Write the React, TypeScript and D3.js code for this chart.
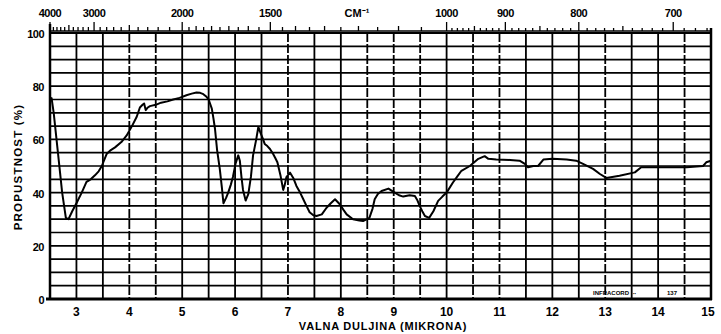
import * as d3 from "d3";
import { useEffect } from "react";

// spectrum: wavelength (µm) and transmittance (%)
const wavelength = [
  2.5, 2.53, 2.57, 2.65, 2.73, 2.8, 2.85, 2.92, 3.0, 3.1, 3.19, 3.27, 3.35, 3.42, 3.48,
  3.57, 3.65, 3.73, 3.85, 3.95, 4.05, 4.14, 4.2, 4.25, 4.28, 4.31, 4.35, 4.39, 4.5, 4.6,
  4.72, 4.83, 4.95, 5.08, 5.18, 5.27, 5.34, 5.4, 5.46, 5.5, 5.56, 5.59, 5.62, 5.66, 5.71,
  5.75, 5.78, 5.83, 5.87, 5.92, 5.96, 6.01, 6.06, 6.09, 6.12, 6.15, 6.2, 6.25, 6.3, 6.34,
  6.4, 6.44, 6.47, 6.5, 6.53, 6.56, 6.61, 6.66, 6.72, 6.76, 6.8, 6.86, 6.91, 6.94, 6.97,
  7.04, 7.1, 7.16, 7.23, 7.29, 7.35, 7.41, 7.48, 7.54, 7.64, 7.73, 7.81, 7.89, 7.98, 8.05,
  8.11, 8.23, 8.35, 8.42, 8.54, 8.6, 8.64, 8.7, 8.77, 8.9, 9.02, 9.1, 9.18, 9.3, 9.4,
  9.45, 9.49, 9.54, 9.59, 9.67, 9.75, 9.84, 9.92, 10.0, 10.12, 10.2, 10.28, 10.44, 10.6,
  10.72, 10.79, 10.94, 11.2, 11.38, 11.48, 11.54, 11.64, 11.73, 11.83, 12.0, 12.27, 12.45,
  12.58, 12.77, 12.9, 13.02, 13.27, 13.56, 13.68, 14.03, 14.54, 14.85, 14.91, 15.0,
];
const transmittance = [
  75, 75.5, 70, 55, 40, 30.5, 30, 33, 36, 40, 44, 45, 46.5, 48, 50,
  54.5, 56, 57, 59, 61.5, 65, 68.5, 72, 73, 73.5, 71, 72, 72.5, 73, 73.8,
  74.3, 75, 75.6, 76.6, 77.2, 77.6, 77.5, 77, 76, 75, 71.6, 68, 64, 56, 49,
  42, 36, 38, 40, 43, 46, 51, 54, 52, 46, 41, 37, 39.4, 46, 54,
  60, 64.7, 63, 61.5, 60, 58.3, 57.5, 56.4, 54.5, 53, 51.4, 46.3, 41, 43, 45.8,
  47.5, 45.5, 42.5, 40, 37.5, 35, 32.6, 31.5, 31.2, 31.8, 34.3, 36, 37.5, 35.6, 33.5,
  31.8, 30, 29.5, 29.3, 30.5, 34, 37.5, 39.5, 40.6, 41.5, 40, 39, 38.5, 39, 38.7,
  37, 35, 33, 31.2, 30.5, 33, 36.9, 38.5, 40, 43.8, 46, 48.2, 50, 52.7,
  53.7, 52.7, 52.4, 52.3, 52, 50.8, 49.5, 50, 50, 52.4, 52.7, 52.4, 52,
  50.8, 48.9, 47, 45.5, 46.3, 47.6, 49.5, 49.5, 49.5, 50, 51.4, 52,
];

const micronTicks = [3, 4, 5, 6, 7, 8, 9, 10, 11, 12, 13, 14, 15];
const percentTicks = [0, 20, 40, 60, 80, 100];
const wavenumberLabels = [4000, 3000, 2000, 1500, 1000, 900, 800, 700];
const dashedVerticals = [4, 4.5, 7, 8.5, 9, 9.5, 10.5, 11, 13, 14.5];

const width = 721;
const height = 334;
const left = 50;
const right = 711;
const top = 33;
const bottom = 299;

const font = "'Liberation Sans', Arial, sans-serif";

export default function App() {
  useEffect(() => {
    document.body.style.margin = "0";
  }, []);

  const x = d3.scaleLinear([2.5, 15], [left, right]);
  const y = d3.scaleLinear([0, 100], [bottom, top]);
  const xWave = (cm: number) => x(10000 / cm);

  const points = wavelength.map((w, i) => [w, transmittance[i]] as [number, number]);
  const line = d3.line<[number, number]>()
    .x(d => x(d[0]))
    .y(d => y(d[1]));

  const hLines = d3.range(5, 100, 5);
  const vLines = d3.range(3, 15, 0.5);

  // top wavenumber ticks
  const minor = [
    ...d3.range(4000, 2000, -100),
    ...d3.range(2000, 1000, -50),
    ...d3.range(1000, 660, -10),
  ];
  const tickLen = (cm: number) => {
    if (wavenumberLabels.includes(cm)) return 9;
    if (cm > 1000) return cm % 500 === 0 ? 6 : cm % 100 === 0 && cm < 2000 ? 5 : 4;
    return cm % 50 === 0 ? 5 : 3;
  };

  return (
    <svg width={width} height={height} style={{ display: "block", background: "#fff" }}>
      {/* horizontal grid every 5 % */}
      <g stroke="#000" strokeWidth={1.7}>
        {hLines.map(v => (
          <line key={v} x1={left} x2={right} y1={y(v)} y2={y(v)} />
        ))}
      </g>
      {/* vertical grid every 0.5 µm */}
      <g stroke="#000" strokeWidth={1.8}>
        {vLines.map(v => (
          <line key={v} x1={x(v)} x2={x(v)} y1={top} y2={bottom}
            strokeDasharray={dashedVerticals.includes(v) ? "9,2" : undefined} />
        ))}
      </g>
      {/* frame */}
      <g stroke="#000" fill="none">
        <line x1={left} x2={right} y1={top} y2={top} strokeWidth={2} />
        <line x1={left} x2={right} y1={31} y2={31} strokeWidth={1.5} />
        <line x1={left} x2={left} y1={24} y2={bottom + 1} strokeWidth={2.5} />
        <line x1={right} x2={right} y1={28} y2={bottom + 1} strokeWidth={2.5} />
        <line x1={left - 4} x2={right + 1} y1={bottom} y2={bottom} strokeWidth={2.8} />
      </g>
      {/* wavenumber ticks */}
      <g stroke="#000" strokeWidth={1.3}>
        {minor.map(cm => (
          <line key={cm} x1={xWave(cm)} x2={xWave(cm)} y1={31} y2={31 - tickLen(cm)} />
        ))}
      </g>
      <g fontFamily={font} fontWeight="bold" fontSize={11} textAnchor="middle" fill="#000">
        {wavenumberLabels.map(cm => (
          <text key={cm} x={xWave(cm)} y={17} letterSpacing={-0.5}>{cm}</text>
        ))}
        <text x={357} y={17}>CM⁻¹</text>
      </g>
      {/* y tick labels */}
      <g fontFamily={font} fontWeight="bold" fontSize={11} textAnchor="end" fill="#000">
        {percentTicks.map(v => (
          <text key={v} x={44} y={y(v) + 5} letterSpacing={-0.5}>{v}</text>
        ))}
      </g>
      {/* micron labels */}
      <g fontFamily={font} fontWeight="bold" fontSize={12} textAnchor="middle" fill="#000">
        {micronTicks.map(v => (
          <text key={v} x={x(v) - (v === 15 ? 3 : 0)} y={316}>{v}</text>
        ))}
      </g>
      {/* spectrum */}
      <path d={line(points) ?? undefined} fill="none" stroke="#000" strokeWidth={2}
        strokeLinejoin="round" />
      {/* chart-paper imprint */}
      <g fontFamily={font} fontWeight="bold" fill="#000">
        <text x={593} y={295} fontSize={6}>INFRACORD</text>
        <text x={633} y={295} fontSize={4}>••</text>
        <text x={667} y={295} fontSize={6}>137</text>
      </g>
      {/* axis titles */}
      <text x={383} y={330} fontFamily={font} fontWeight="bold" fontSize={11}
        textAnchor="middle" letterSpacing={0.8}>VALNA DULJINA (MIKRONA)</text>
      <text transform="translate(22,167) rotate(-90)" fontFamily={font} fontWeight="bold"
        fontSize={11.5} textAnchor="middle" letterSpacing={1.2}>PROPUSTNOST (%)</text>
    </svg>
  );
}
